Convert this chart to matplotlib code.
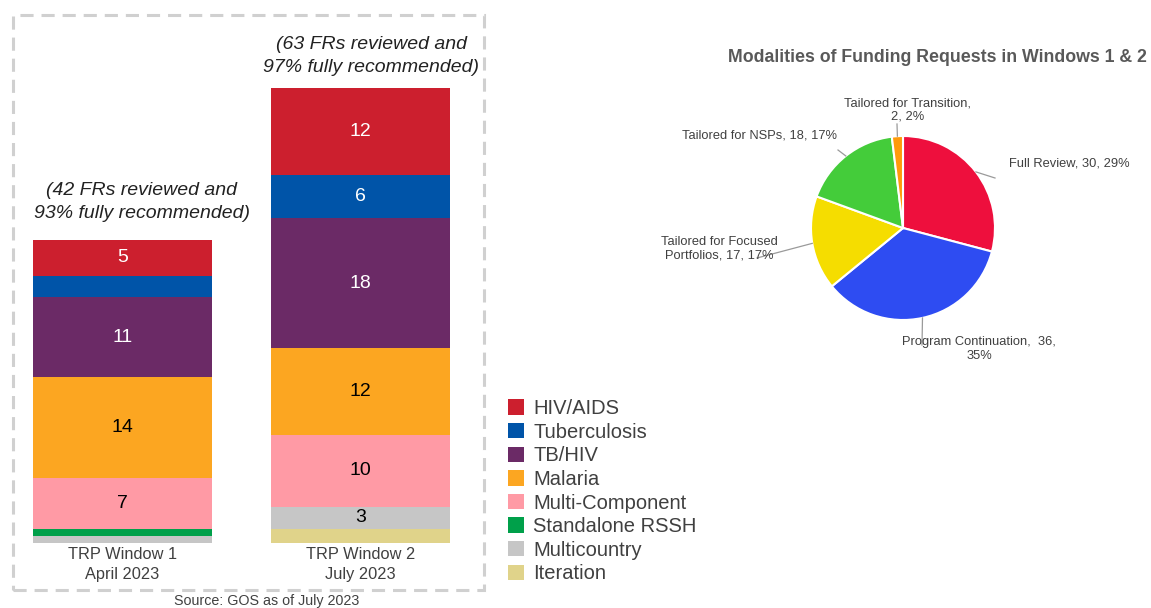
"""
TRP funding request review: stacked bars per window + pie of modalities.
"""

import matplotlib.pyplot as plt
from matplotlib.patches import Patch, Rectangle
import numpy as np

plt.rcParams['font.family'] = ['Liberation Sans', 'DejaVu Sans']

# ---- data ----
windows = ['TRP Window 1\nApril 2023', 'TRP Window 2\nJuly 2023']
components = ['HIV/AIDS', 'Tuberculosis', 'TB/HIV', 'Malaria',
              'Multi-Component', 'Standalone RSSH', 'Multicountry', 'Iteration']
window1 = [5, 3, 11, 14, 7, 1, 1, 0]
window2 = [12, 6, 18, 12, 10, 0, 3, 2]
notes = ['(42 FRs reviewed and\n93% fully recommended)',
         '(63 FRs reviewed and\n97% fully recommended)']
hidden_labels = {(0, 'Tuberculosis')}

modalities = ['Full Review', 'Program Continuation', 'Tailored for Focused Portfolios',
              'Tailored for NSPs', 'Tailored for Transition']
modality_counts = [30, 36, 17, 18, 2]
pie_title = 'Modalities of Funding Requests in Windows 1 & 2'
source = 'Source: GOS as of July 2023'

comp_colors = ['#CC1F2E', '#0054A8', '#6B2A66', '#FCA621',
               '#FF9AA5', '#00A04A', '#C6C6C6', '#E0D38A']
light_text = {'HIV/AIDS', 'Tuberculosis', 'TB/HIV'}
pie_colors = ['#EE0F3D', '#2E4CF2', '#F5DD00', '#44CC3A', '#FF9A0A']
TXT = '#404040'

W, H = 1151, 608
fig = plt.figure(figsize=(W / 100, H / 100), dpi=100)

# ---- stacked bars ----
bar_bottom, bar_top_px, box_top = 543, 88, 15
ax1 = fig.add_axes([13 / W, 1 - bar_bottom / H, 471 / W, (bar_bottom - box_top) / H])
data = np.array([window1, window2])
totals = data.sum(axis=1)
x = np.arange(len(windows))
bottom = np.zeros(len(windows))
# stack from the last component (bottom) up to HIV/AIDS (top)
for ci in range(len(components) - 1, -1, -1):
    vals = data[:, ci]
    ax1.bar(x, vals, 0.75, bottom=bottom, color=comp_colors[ci], linewidth=0)
    for wi in range(len(windows)):
        v = vals[wi]
        if v >= 3 and (wi, components[ci]) not in hidden_labels:
            col = 'white' if components[ci] in light_text else 'black'
            ax1.text(x[wi], bottom[wi] + v / 2, str(v), ha='center', va='center',
                     fontsize=14, color=col)
    bottom += vals

ax1.set_xlim(-0.46, 1.52)
ax1.set_ylim(0, totals.max() * (bar_bottom - box_top) / (bar_bottom - bar_top_px))
ax1.set_xticks(x)
ax1.set_xticklabels(windows, fontsize=11.8, color=TXT, linespacing=1.4)
ax1.tick_params(axis='x', length=0, pad=3)
ax1.set_yticks([])
for s in ax1.spines.values():
    s.set_visible(False)
ax1.patch.set_alpha(0)

note_offsets = [(14, 13), (8, 9)]
for wi, note in enumerate(notes):
    ax1.annotate(note, xy=(x[wi], totals[wi]), xytext=note_offsets[wi],
                 textcoords='offset points', ha='center', va='bottom', fontsize=14,
                 style='italic', color='#222222', linespacing=1.4)

fig.add_artist(Rectangle((13 / W, 1 - 590 / H), 471 / W, 575 / H, transform=fig.transFigure,
                         fill=False, ec='#D0D0D0', lw=2.2, linestyle=(0, (4.3, 2.6))))
fig.text(267 / W, 1 - 601 / H, source, ha='center', va='center', fontsize=10.3, color=TXT)

handles = [Patch(facecolor=c, edgecolor='none') for c in comp_colors]
fig.legend(handles, components, loc='upper left', bbox_to_anchor=(508 / W, 1 - 399 / H),
           frameon=False, fontsize=14.5, handlelength=0.8, handleheight=0.8,
           handletextpad=0.45, labelspacing=0.23, borderpad=0, borderaxespad=0,
           labelcolor=TXT)

# ---- pie ----
cx, cy, R = 903, 228, 92
ax2 = fig.add_axes([(cx - R) / W, (H - cy - R) / H, 2 * R / W, 2 * R / H])
wedges, _ = ax2.pie(modality_counts, colors=pie_colors, startangle=90, counterclock=False,
                    radius=1, wedgeprops=dict(edgecolor='white', linewidth=1.5))
ax2.set_xlim(-1, 1)
ax2.set_ylim(-1, 1)
ax2.axis('off')

fig.text(937 / W, 1 - 57 / H, pie_title, ha='center', va='center', fontsize=12.8,
         fontweight='bold', color='#595959')


def u(px, py):
    return (px - cx) / R, (cy - py) / R


# per-label layout: text pattern, text centre (px), leader end (px)
label_layout = {
    'Full Review': ('{n}, {v}, {p}%', (1069, 164), (995, 178)),
    'Program Continuation': ('{n},  {v},\n{p}%', (979, 349), (922, 345)),
    'Tailored for Focused Portfolios': ('Tailored for Focused\nPortfolios, {v}, {p}%',
                                        (719, 249), (757, 258)),
    'Tailored for NSPs': ('{n}, {v}, {p}%', (760, 135), (838, 150)),
    'Tailored for Transition': ('{n},\n{v}, {p}%', (908, 110), (897, 124)),
}
total = sum(modality_counts)
for w, name, v in zip(wedges, modalities, modality_counts):
    pattern, tpos, lend = label_layout[name]
    mid = np.deg2rad((w.theta1 + w.theta2) / 2)
    ex, ey = np.cos(mid), np.sin(mid)
    lx, ly = u(*lend)
    ax2.plot([ex, lx], [ey, ly], color='#9A9A9A', lw=0.9, clip_on=False, zorder=3)
    pct = int(v / total * 100 + 0.5)
    tx, ty = u(*tpos)
    ax2.text(tx, ty, pattern.format(n=name, v=v, p=pct), ha='center', va='center',
             fontsize=9.3, color=TXT, clip_on=False, linespacing=1.15, zorder=4)

fig.savefig('out.png', dpi=100)
